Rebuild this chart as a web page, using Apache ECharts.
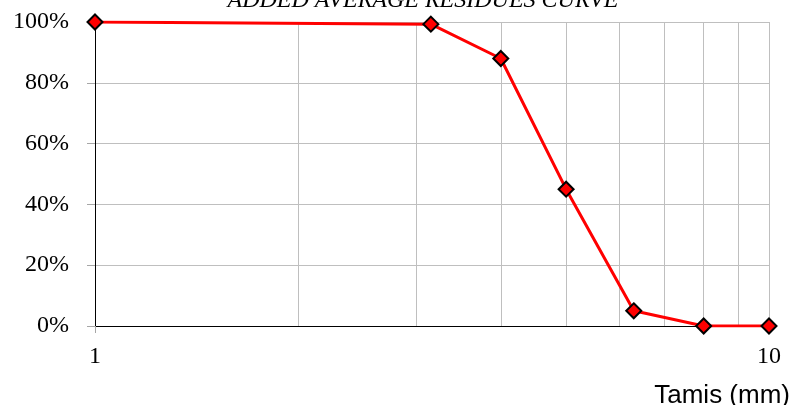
<!DOCTYPE html>
<html>
<head>
<meta charset="utf-8">
<script src="https://cdn.jsdelivr.net/npm/echarts@6/dist/echarts.min.js"></script>
<style>
html,body{margin:0;padding:0;background:#fff;}
#chart{width:797px;height:405px;}
</style>
</head>
<body>
<div id="chart"></div>
<script>
const titleText = 'ADDED AVERAGE RESIDUES CURVE';
const xAxisName = 'Tamis (mm)';
const sieveSizes = [1, 3.15, 4, 5, 6.3, 8, 10];
const passingPercent = [100, 99.3, 88, 45, 5, 0, 0];
const minorGridValues = [2, 3, 4, 5, 6, 7, 8, 9];
const yTicks = [0, 20, 40, 60, 80, 100];

const chart = echarts.init(document.getElementById('chart'));
const serif = 'Liberation Serif, Times New Roman, serif';
chart.setOption({
  animation: false,
  backgroundColor: '#ffffff',
  title: [
    {
      text: titleText, left: 418, top: -16, textAlign: 'center',
      textStyle: { fontFamily: serif, fontStyle: 'italic', fontWeight: 'normal', fontSize: 24, color: '#000' }
    },
    {
      text: xAxisName, right: 2, top: 378,
      textStyle: { fontFamily: 'Liberation Sans, Arial, sans-serif', fontWeight: 'normal', fontSize: 26, color: '#000' }
    }
  ],
  grid: { left: 95, right: 28, top: 22, bottom: 79 },
  xAxis: {
    type: 'log', logBase: 10, min: 1, max: 10,
    axisLine: { show: true, lineStyle: { color: '#000', width: 1 } },
    axisTick: { show: true, length: 7, lineStyle: { color: '#a6a6a6' } },
    axisLabel: { fontFamily: serif, fontSize: 24, color: '#000', margin: 19 },
    splitLine: { show: true, lineStyle: { color: '#bfbfbf', width: 1 } }
  },
  yAxis: {
    type: 'value', min: yTicks[0], max: yTicks[yTicks.length - 1], interval: yTicks[1] - yTicks[0],
    axisLine: { show: true, lineStyle: { color: '#000', width: 1 } },
    axisTick: { show: true, length: 8, lineStyle: { color: '#a6a6a6' } },
    axisLabel: { fontFamily: serif, fontSize: 24, color: '#000', margin: 26, formatter: '{value}%' },
    splitLine: { show: true, lineStyle: { color: '#bfbfbf', width: 1 } }
  },
  series: [
    {
      type: 'line', data: [], silent: true, z: 1,
      markLine: {
        silent: true, symbol: 'none', animation: false,
        label: { show: false },
        lineStyle: { color: '#bfbfbf', type: 'solid', width: 1 },
        data: minorGridValues.map(v => ({ xAxis: v }))
      }
    },
    {
      type: 'line', z: 5,
      data: sieveSizes.map((s, i) => [s, passingPercent[i]]),
      lineStyle: { color: '#ff0000', width: 3 },
      symbol: 'diamond', symbolSize: 15,
      itemStyle: { color: '#ff0000', borderColor: '#000', borderWidth: 2 }
    }
  ]
});
</script>
</body>
</html>
